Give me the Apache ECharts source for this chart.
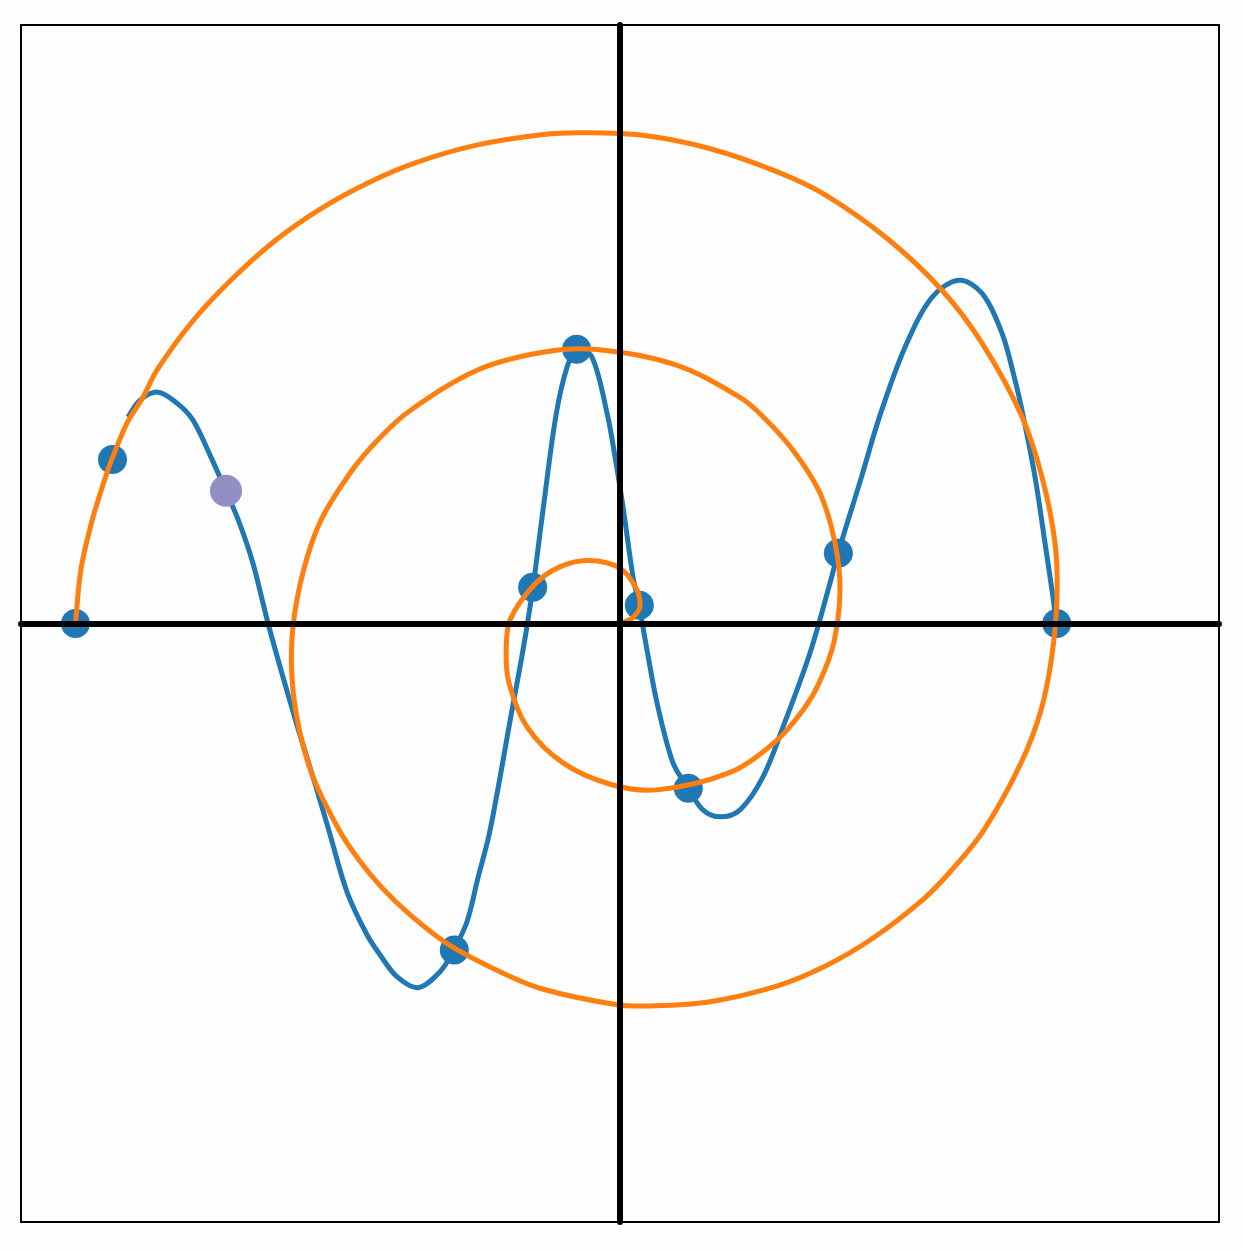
<!DOCTYPE html>
<html>
<head>
<meta charset="utf-8">
<script src="https://cdn.jsdelivr.net/npm/echarts@6/dist/echarts.min.js"></script>
<style>
html,body{margin:0;padding:0;background:#fdfdfd;}
#chart{width:1242px;height:1252px;}
</style>
</head>
<body>
<div id="chart"></div>
<script>
// Axis range (data units)
const axisMin = -1.1;
const axisMax = 1.1;

// Blue curve
const curveX = [-0.9036,-0.8815,-0.8485,-0.8136,-0.7842,-0.7512,-0.7236,-0.6988,-0.6742,-0.6465,-0.6189,-0.5905,-0.5638,-0.5344,-0.5014,-0.4646,-0.4408,-0.4096,-0.3710,-0.3306,-0.3049,-0.2810,-0.2608,-0.2388,-0.1983,-0.1781,-0.1598,-0.1414,-0.1175,-0.0973,-0.0790,-0.0514,-0.0230,-0.0092,0.0055,0.0239,0.0349,0.0496,0.0680,0.0973,0.1249,0.1524,0.1837,0.2204,0.2626,0.2994,0.3489,0.3857,0.4004,0.4417,0.4775,0.5234,0.5730,0.6226,0.6648,0.7015,0.7254,0.7401,0.7622,0.7805,0.7983,0.8000];
const curveY = [0.3793,0.4105,0.4252,0.4050,0.3737,0.3058,0.2433,0.1846,0.1111,0.0009,-0.0983,-0.1956,-0.2819,-0.3811,-0.4931,-0.5721,-0.6088,-0.6492,-0.6694,-0.6400,-0.5996,-0.5482,-0.4674,-0.3811,-0.1589,-0.0487,0.0670,0.2084,0.3829,0.4711,0.5041,0.4894,0.3829,0.3067,0.2149,0.0854,0.0340,-0.0487,-0.1460,-0.2562,-0.3021,-0.3425,-0.3554,-0.3425,-0.2819,-0.1901,-0.0542,0.0744,0.1295,0.2635,0.3829,0.5078,0.5996,0.6309,0.6070,0.5335,0.4472,0.3829,0.2690,0.1478,0.0248,0.0000];

// Orange spiral
const spiralX = [-1.0,-0.9900,-0.9694,-0.9452,-0.9330,-0.9054,-0.8760,-0.8503,-0.7879,-0.7180,-0.6353,-0.5492,-0.4621,-0.3747,-0.2617,-0.1408,-0.0677,0.0422,0.1659,0.2892,0.3783,0.4918,0.5914,0.6648,0.7376,0.7750,0.7989,0.8025,0.7929,0.7732,0.7365,0.6685,0.6085,0.5563,0.4628,0.3783,0.2892,0.1653,0.0603,-0.0055,-0.1423,-0.2204,-0.3161,-0.3857,-0.4364,-0.4793,-0.5158,-0.5638,-0.5902,-0.6024,-0.6006,-0.5813,-0.5491,-0.4906,-0.4426,-0.3884,-0.2626,-0.1414,-0.0419,0.1036,0.2167,0.2590,0.3177,0.3673,0.3949,0.4040,0.3927,0.3662,0.3376,0.2853,0.2047,0.0680,-0.0181,-0.1047,-0.1708,-0.2043,-0.2090,-0.2020,-0.1579,-0.1116,-0.0584,0.0,0.0312,0.0367,0.0294,0.0202,0.0];
const spiralY = [0.0,0.0990,0.1893,0.2679,0.3021,0.3682,0.4160,0.4656,0.5519,0.6276,0.7021,0.7625,0.8102,0.8471,0.8796,0.8989,0.9021,0.8972,0.8726,0.8300,0.7870,0.7067,0.6125,0.5152,0.3816,0.2690,0.1478,0.0485,-0.0610,-0.1589,-0.2562,-0.3793,-0.4540,-0.5074,-0.5794,-0.6290,-0.6659,-0.6951,-0.7028,-0.7006,-0.6718,-0.6400,-0.5893,-0.5352,-0.4864,-0.4346,-0.3795,-0.2819,-0.1891,-0.0983,-0.0064,0.0972,0.1901,0.2836,0.3397,0.3893,0.4656,0.4986,0.5035,0.4751,0.4178,0.3838,0.3186,0.2397,0.1478,0.0615,-0.0353,-0.1079,-0.1570,-0.2172,-0.2727,-0.3058,-0.2954,-0.2562,-0.1901,-0.1076,-0.0478,0.0064,0.0707,0.1036,0.1158,0.1019,0.0617,0.0303,0.0174,0.0083,0.0];

// Marked points
const dotX = [-1.0,-0.932,-0.3043,-0.1604,-0.0796,0.0355,0.1255,0.401,0.802];
const dotY = [0.0,0.3016,-0.6002,0.0665,0.504,0.0334,-0.3027,0.129,0.0];
const highlightX = [-0.7236];
const highlightY = [0.2439];

const zip = (xs, ys) => xs.map((x, i) => [x, ys[i]]);

// Smooth path (chord-length Catmull-Rom) through the pixel points given by the axes
function splinePath(pts) {
  const n = pts.length;
  const d = [];
  for (let i = 0; i < n - 1; i++) {
    d.push(Math.hypot(pts[i+1][0]-pts[i][0], pts[i+1][1]-pts[i][1]) || 1e-6);
  }
  const tan = pts.map((p, i) => {
    if (i === 0) return [(pts[1][0]-p[0])/d[0], (pts[1][1]-p[1])/d[0]];
    if (i === n-1) return [(p[0]-pts[n-2][0])/d[n-2], (p[1]-pts[n-2][1])/d[n-2]];
    const s = d[i-1] + d[i];
    return [(pts[i+1][0]-pts[i-1][0])/s, (pts[i+1][1]-pts[i-1][1])/s];
  });
  let path = 'M' + pts[0][0] + ' ' + pts[0][1];
  for (let i = 0; i < n - 1; i++) {
    const k = d[i] / 3;
    const c1 = [pts[i][0] + tan[i][0]*k, pts[i][1] + tan[i][1]*k];
    const c2 = [pts[i+1][0] - tan[i+1][0]*k, pts[i+1][1] - tan[i+1][1]*k];
    path += ' C' + c1[0] + ' ' + c1[1] + ' ' + c2[0] + ' ' + c2[1] + ' ' + pts[i+1][0] + ' ' + pts[i+1][1];
  }
  return path;
}

function curveSeries(xs, ys, color, z) {
  return {
    type: 'custom', z: z, coordinateSystem: 'cartesian2d', clip: false,
    data: zip(xs, ys),
    encode: {x: 0, y: 1},
    renderItem: function (params, api) {
      if (params.dataIndex !== 0) return null;
      const pts = xs.map((x, i) => api.coord([x, ys[i]]));
      return {
        type: 'path',
        shape: {pathData: splinePath(pts)},
        style: {stroke: color, lineWidth: 5, fill: 'none', lineCap: 'butt', lineJoin: 'round'}
      };
    }
  };
}

const chart = echarts.init(document.getElementById('chart'), null, {renderer: 'canvas'});
const axisCommon = {
  type: 'value',
  min: axisMin,
  max: axisMax,
  z: 10,
  axisLine: {show: true, onZero: true, lineStyle: {color: '#000', width: 6}},
  axisTick: {show: false},
  axisLabel: {show: false},
  splitLine: {show: false}
};
chart.setOption({
  backgroundColor: '#fdfdfd',
  animation: false,
  grid: {left: 21, top: 25, width: 1198, height: 1197, show: true, borderColor: '#000', borderWidth: 2, backgroundColor: 'transparent'},
  xAxis: Object.assign({}, axisCommon),
  yAxis: Object.assign({}, axisCommon),
  series: [
    {
      type: 'scatter', z: 1, symbolSize: 29,
      itemStyle: {color: '#1f77b4', opacity: 1},
      data: zip(dotX, dotY)
    },
    curveSeries(curveX, curveY, '#1f77b4', 2),
    {
      type: 'scatter', z: 3, symbolSize: 32,
      itemStyle: {color: '#928ec6', opacity: 1},
      data: zip(highlightX, highlightY)
    },
    curveSeries(spiralX, spiralY, '#ff7f0e', 4)
  ]
});
</script>
</body>
</html>
